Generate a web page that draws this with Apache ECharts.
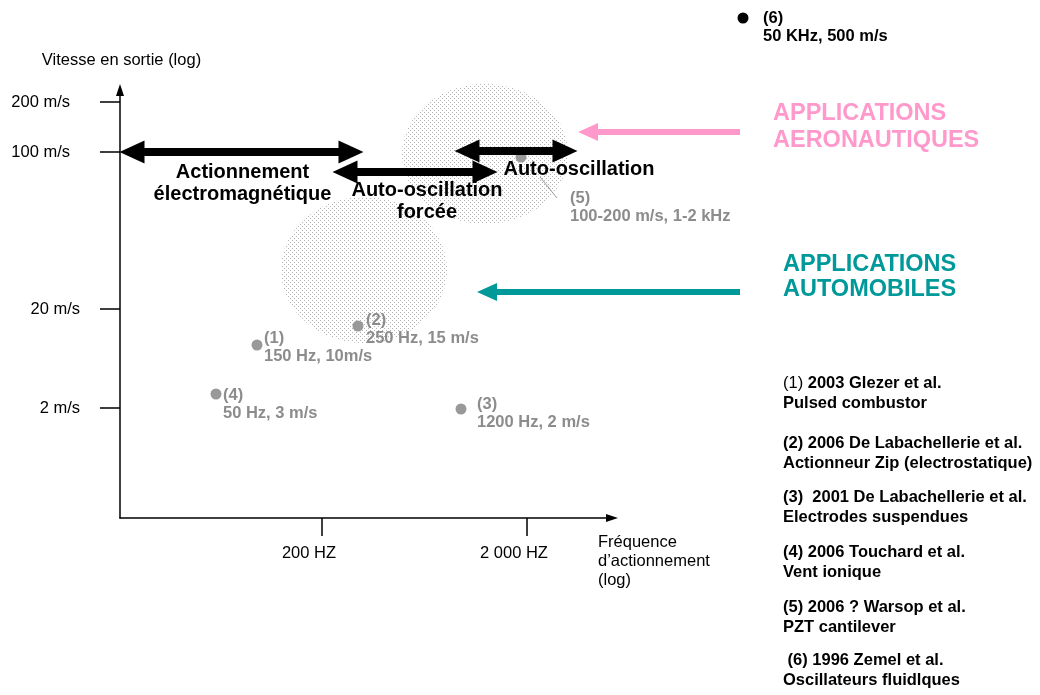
<!DOCTYPE html>
<html><head><meta charset="utf-8">
<script src="https://cdn.jsdelivr.net/npm/echarts@6/dist/echarts.min.js"></script>
<style>html,body{margin:0;padding:0;background:#fff}#c{width:1040px;height:695px}</style>
</head><body><div id="c"></div>
<script>
// Schematic (qualitative log) axes: values are positions on the drawn scale
const xTickValues = [202, 407];
const xTickLabels = ['200 HZ', '2 000 HZ'];
const yTickValues = [110, 209, 366, 416];
const yTickLabels = ['2 m/s', '20 m/s', '100 m/s', '200 m/s'];

const pointIds = ['(1)', '(2)', '(3)', '(4)', '(5)', '(6)'];
const pointDesc = ['150 Hz, 10m/s', '250 Hz, 15 m/s', '1200 Hz, 2 m/s', '50 Hz, 3 m/s', '100-200 m/s, 1-2 kHz', '50 KHz, 500 m/s'];
const pointX = [137, 238, 341, 96, 401, 623];
const pointY = [173, 192, 109, 124, 361, 500];

const rangeNames = ['Actionnement\nélectromagnétique', 'Auto-oscillation\nforcée', 'Auto-oscillation'];
const rangeFrom = [0, 213, 335];
const rangeTo = [243, 377, 457];
const rangeLevel = [366, 346, 367];

const zoneNames = ['APPLICATIONS\nAERONAUTIQUES', 'APPLICATIONS\nAUTOMOBILES'];
const zoneCx = [365, 244];
const zoneCy = [364, 248];
const zoneRx = [83, 83];
const zoneRy = [70, 73];
const zoneArrowFrom = [620, 620];
const zoneArrowTip = [458, 357];
const zoneArrowLevel = [386, 226];

const refIds = ['(1)', '(2)', '(3) ', '(4)', '(5)', ' (6)'];
const refAuthors = ['2003 Glezer et al.', '2006 De Labachellerie et al.', '2001 De Labachellerie et al.', '2006 Touchard et al.', '2006 ? Warsop et al.', '1996 Zemel et al.'];
const refTopics = ['Pulsed combustor', 'Actionneur Zip (electrostatique)', 'Electrodes suspendues', 'Vent ionique', 'PZT cantilever', 'Oscillateurs fluidlques'];

// ---------- styling / layout ----------
const FONT = "'Liberation Sans', Arial, Helvetica, sans-serif";
const GRAY = '#8c8c8c';
const zoneColors = ['#ff99cc', '#009999'];
const labelPos = [[12.5, -10.5], [13.5, -9.5], [21.5, -8.5], [12.5, -2.5], [54.5, 37.5], [25.5, -3.5]];
const rangeLabelOff = [[1, 20], [12, 18], [63, 18]];
const refTops = [373, 433, 487, 542, 597, 650];
const zoneTextPos = [[773, 100.5, 27], [783, 252.5, 25]];

// dotted (halftone) fill
const pc = document.createElement('canvas');
pc.width = 4; pc.height = 4;
const g = pc.getContext('2d');
g.fillStyle = '#b2b2b2';
g.fillRect(0, 0, 1, 1);
g.fillRect(2, 2, 1, 1);
const dotPattern = { image: pc, repeat: 'repeat' };

const chart = echarts.init(document.getElementById('c'), null, { renderer: 'canvas' });
const HEAD = 12; // half arrow-head length in axis units (1 unit = 1 px here)

const option = {
  backgroundColor: '#fff',
  animation: false,
  grid: { left: 120, top: 90, width: 492, height: 428 },
  xAxis: {
    type: 'value', min: 0, max: 492,
    splitLine: { show: false },
    axisLine: { onZero: false, lineStyle: { color: '#000', width: 1.5 }, symbol: ['none', 'triangle'], symbolSize: [8, 12] },
    axisTick: { show: true, customValues: xTickValues, length: 18, lineStyle: { color: '#000', width: 1.5 } },
    axisLabel: {
      customValues: xTickValues, margin: 27, color: '#000', fontFamily: FONT, fontSize: 16.5,
      padding: [0, 26, 0, 0],
      formatter: v => xTickLabels[xTickValues.indexOf(v)] || ''
    },
    name: 'Fréquence\nd\u2019actionnement\n(log)', nameLocation: 'end', nameGap: -14,
    nameTextStyle: { align: 'left', verticalAlign: 'top', lineHeight: 19, padding: [15, 0, 0, 0], color: '#000', fontFamily: FONT, fontSize: 16.5 }
  },
  yAxis: {
    type: 'value', min: 0, max: 428,
    splitLine: { show: false },
    axisLine: { onZero: false, lineStyle: { color: '#000', width: 1.5 }, symbol: ['none', 'triangle'], symbolSize: [8, 12] },
    axisTick: { show: true, customValues: yTickValues, length: 20, lineStyle: { color: '#000', width: 1.5 } },
    axisLabel: {
      customValues: yTickValues, margin: 40, color: '#000', fontFamily: FONT, fontSize: 16.5,
      formatter: v => { const i = yTickValues.indexOf(v); return i >= 2 ? '{p|' + yTickLabels[i] + '}' : (yTickLabels[i] || ''); },
      rich: { p: { padding: [0, 10, 0, 0], color: '#000', fontFamily: FONT, fontSize: 16.5 } }
    },
    name: 'Vitesse en sortie (log)', nameLocation: 'end', nameGap: 30,
    nameTextStyle: { align: 'center', verticalAlign: 'middle', color: '#000', fontFamily: FONT, fontSize: 16.5, padding: [0, 0, 0, 3] }
  },
  series: [
    {
      type: 'custom', coordinateSystem: 'cartesian2d', clip: false, silent: true, z: 1,
      data: zoneCx.map((x, i) => [x, zoneCy[i], zoneRx[i], zoneRy[i]]),
      renderItem: (params, api) => {
        const c = api.coord([api.value(0), api.value(1)]);
        const s = api.size([api.value(2), api.value(3)]);
        return { type: 'ellipse', shape: { cx: c[0], cy: c[1], rx: s[0], ry: s[1] }, style: { fill: dotPattern, stroke: null } };
      }
    },
    {
      type: 'scatter', z: 3, clip: false, symbolSize: 11, silent: true,
      data: pointX.map((x, i) => ({
        value: [x, pointY[i]],
        itemStyle: { color: i === 5 ? '#000' : '#999999', opacity: 1 },
        label: {
          show: true, position: labelPos[i],
          formatter: pointIds[i] + '\n' + pointDesc[i],
          color: i === 5 ? '#000' : GRAY, opacity: 1, fontFamily: FONT, fontWeight: 'bold', fontSize: 16.5, lineHeight: 18, align: 'left'
        }
      }))
    },
    {
      type: 'lines', coordinateSystem: 'cartesian2d', z: 4, clip: false, silent: true,
      symbol: ['triangle', 'triangle'], symbolSize: [[23, 25], [23, 25]],
      lineStyle: { color: '#000', width: 8, opacity: 1, curveness: 0 },
      data: rangeFrom.map((f, i) => ({ coords: [[f + HEAD, rangeLevel[i]], [rangeTo[i] - HEAD, rangeLevel[i]]] }))
    },
    ...zoneArrowFrom.map((f, i) => ({
      type: 'lines', coordinateSystem: 'cartesian2d', z: 4, clip: false, silent: true,
      symbol: ['none', 'triangle'], symbolSize: [18, [18, 20]],
      lineStyle: { color: zoneColors[i], width: 6, opacity: 1, curveness: 0 },
      data: [{ coords: [[f, zoneArrowLevel[i]], [zoneArrowTip[i] + 10, zoneArrowLevel[i]]] }]
    }))
  ]
};
chart.setOption(option);

// ---------- text annotations placed from data positions ----------
const graphics = [];
rangeNames.forEach((t, i) => {
  const p = chart.convertToPixel({ gridIndex: 0 }, [(rangeFrom[i] + rangeTo[i]) / 2, rangeLevel[i]]);
  graphics.push({
    type: 'text', z: 100, silent: true,
    x: p[0] + rangeLabelOff[i][0], y: p[1] + rangeLabelOff[i][1] - 10.75,
    style: { text: t, fill: '#000', font: 'bold 20px ' + FONT, textAlign: 'center', textVerticalAlign: 'top', lineHeight: 22 }
  });
});
const p5 = chart.convertToPixel({ gridIndex: 0 }, [pointX[4], pointY[4]]);
graphics.push({ type: 'line', z: 100, silent: true, shape: { x1: p5[0] + 19, y1: p5[1] + 20, x2: p5[0] + 36, y2: p5[1] + 41 }, style: { stroke: '#999', lineWidth: 1 } });
zoneNames.forEach((t, i) => {
  graphics.push({
    type: 'text', z: 100, silent: true, x: zoneTextPos[i][0], y: zoneTextPos[i][1],
    style: { text: t, fill: zoneColors[i], font: 'bold 23.5px ' + FONT, textAlign: 'left', textVerticalAlign: 'top', lineHeight: zoneTextPos[i][2] }
  });
});
refIds.forEach((id, i) => {
  graphics.push({
    type: 'text', z: 100, silent: true, x: 783, y: refTops[i],
    style: {
      text: (i === 0 ? '{r|' + id + '} ' : '{b|' + id + ' }') + '{b|' + refAuthors[i] + '}\n{b|' + refTopics[i] + '}',
      textAlign: 'left', textVerticalAlign: 'top', fill: '#000',
      font: 'bold 16.5px ' + FONT, lineHeight: 20,
      rich: {
        r: { fontFamily: FONT, fontSize: 16.5, fontWeight: 'normal', fill: '#000', lineHeight: 20 },
        b: { fontFamily: FONT, fontSize: 16.5, fontWeight: 'bold', fill: '#000', lineHeight: 20 }
      }
    }
  });
});
chart.setOption({ graphic: graphics });
</script>
</body></html>
